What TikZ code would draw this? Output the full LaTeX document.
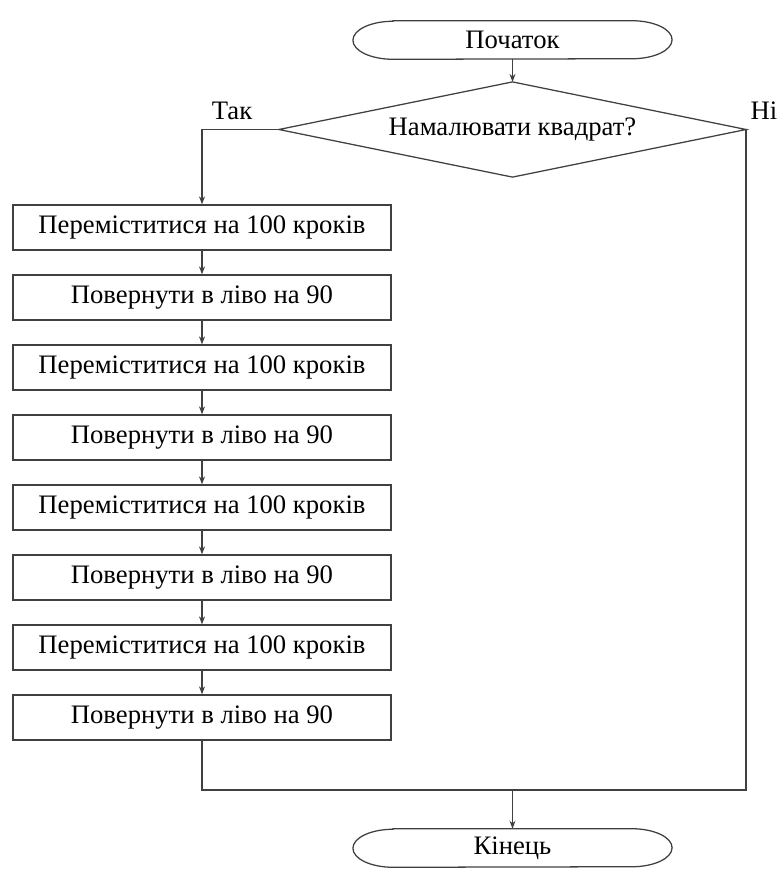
\documentclass[tikz,border=0pt]{standalone}
\usepackage{fontspec}
\setmainfont{Liberation Serif}
\usetikzlibrary{arrows.meta}
\begin{document}
\begin{tikzpicture}[x=0.75pt,y=-0.75pt,
  line/.style={draw=black!75,line width=0.95pt},
  arr/.style={line,-{Stealth[length=6pt,width=4.5pt]}},
  txt/.style={font=\fontsize{20pt}{22pt}\selectfont},
  term/.style={rectangle,minimum width=239pt,minimum height=28.5pt,inner sep=0pt,txt},
  stepbox/.style={rectangle,line,minimum width=283.5pt,minimum height=33.75pt,inner sep=0pt,txt},
  decide/.style={rectangle,minimum width=350pt,minimum height=71pt,inner sep=0pt,txt},
  lbl/.style={txt,inner sep=0pt}]
\useasboundingbox (0,0) rectangle (780,876);
\node[term] (start) at (512.5,40) {Початок};
\node[decide] (dec) at (512.5,129.5) {Намалювати квадрат?};
\node[lbl] (yes) at (232,111) {Так};
\node[lbl] (no) at (764,111) {Ні};
\foreach \i/\t in {1/Переміститися на 100 кроків,2/Повернути в ліво на 90,3/Переміститися на 100 кроків,4/Повернути в ліво на 90,5/Переміститися на 100 кроків,6/Повернути в ліво на 90,7/Переміститися на 100 кроків,8/Повернути в ліво на 90}{
  \node[stepbox] (b\i) at (202,{227.5+70*(\i-1)}) {\t};
}
\coordinate (j) at (512.5,790);
\node[term] (end) at (512.5,848) {Кінець};
% shapes
\foreach \n in {start,end}{
  \draw[line] ([xshift=30pt]\n.north west) -- ([xshift=-30pt]\n.north east)
    arc[start angle=90,end angle=-90,x radius=30pt,y radius=14.25pt]
    -- ([xshift=30pt]\n.south west)
    arc[start angle=270,end angle=90,x radius=30pt,y radius=14.25pt] -- cycle;
}
\draw[line] (dec.west) -- (dec.north) -- (dec.east) -- (dec.south) -- cycle;
% connectors
\draw[arr] (start) -- (dec.north);
\draw[arr] (dec.west) -| (b1.north);
\foreach \a/\b in {1/2,2/3,3/4,4/5,5/6,6/7,7/8}{\draw[arr] (b\a) -- (b\b);}
\draw[line] (b8.south) |- (dec.east |- j) -- (dec.east);
\draw[arr] (j) -- (end);
\end{tikzpicture}
\end{document}
